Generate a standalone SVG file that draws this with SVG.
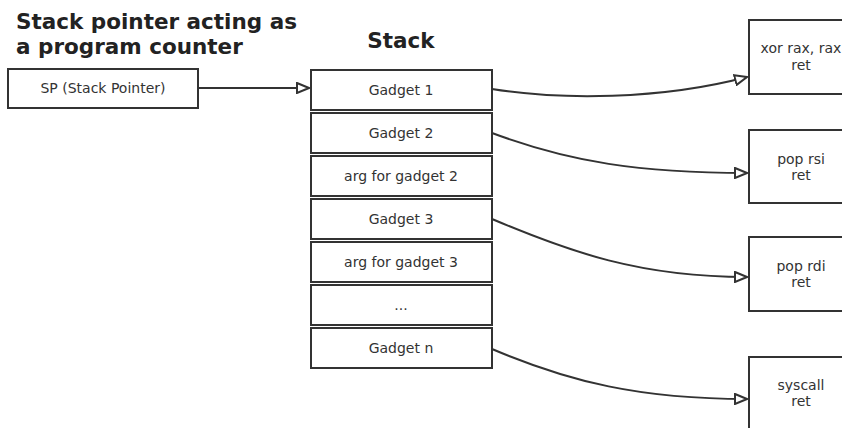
<svg xmlns="http://www.w3.org/2000/svg" width="842" height="428" viewBox="0 0 842 428">
<defs>
<style>
.box{fill:#fff;stroke:#333;stroke-width:2}
.t{font-family:"DejaVu Sans",sans-serif;font-size:14px;fill:#333;text-anchor:middle}
.title{font-family:"DejaVu Sans",sans-serif;font-size:21.5px;font-weight:bold;fill:#222}
.edge{fill:none;stroke:#333;stroke-width:2}
</style>
<marker id="tri" markerUnits="userSpaceOnUse" markerWidth="14" markerHeight="12" refX="12" refY="5" orient="auto" viewBox="-1 -1 14 12">
<path d="M0,0 L12,5 L0,10 Z" fill="#fff" stroke="#333" stroke-width="2"/>
</marker>
</defs>
<rect width="842" height="428" fill="#fff"/>
<g id="title">
<text class="title" x="16" y="29">Stack pointer acting as</text>
<text class="title" x="16" y="54">a program counter</text>
</g>
<g id="stack-title">
<text class="title" x="401" y="48" text-anchor="middle">Stack</text>
</g>
<g id="sp">
<rect class="box" x="8" y="69" width="190" height="39"/>
<text class="t" x="103" y="93">SP (Stack Pointer)</text>
</g>
<g id="gadget1"><rect class="box" x="311" y="70" width="181" height="40"/><text class="t" x="401" y="95">Gadget 1</text></g>
<g id="gadget2"><rect class="box" x="311" y="113" width="181" height="40"/><text class="t" x="401" y="138">Gadget 2</text></g>
<g id="arg2"><rect class="box" x="311" y="156" width="181" height="40"/><text class="t" x="401" y="181">arg for gadget 2</text></g>
<g id="gadget3"><rect class="box" x="311" y="199" width="181" height="40"/><text class="t" x="401" y="224">Gadget 3</text></g>
<g id="arg3"><rect class="box" x="311" y="242" width="181" height="40"/><text class="t" x="401" y="267">arg for gadget 3</text></g>
<g id="dots"><rect class="box" x="311" y="285" width="181" height="40"/><text class="t" x="401" y="310">...</text></g>
<g id="gadgetn"><rect class="box" x="311" y="328" width="181" height="40"/><text class="t" x="401" y="353">Gadget n</text></g>
<g id="xor"><rect class="box" x="749" y="20" width="106" height="74"/><text class="t" x="801" y="53">xor rax, rax</text><text class="t" x="801" y="70">ret</text></g>
<g id="poprsi"><rect class="box" x="749" y="130" width="106" height="73"/><text class="t" x="801" y="164">pop rsi</text><text class="t" x="801" y="180">ret</text></g>
<g id="poprdi"><rect class="box" x="749" y="237" width="106" height="74"/><text class="t" x="801" y="271">pop rdi</text><text class="t" x="801" y="287">ret</text></g>
<g id="syscall"><rect class="box" x="749" y="357" width="106" height="74"/><text class="t" x="801" y="390">syscall</text><text class="t" x="801" y="406">ret</text></g>
<g id="connectors">
<path class="edge" d="M198,88 L309,88" marker-end="url(#tri)"/>
<path class="edge" d="M492,89 C560,100 660,100 747,77" marker-end="url(#tri)"/>
<path class="edge" d="M492,133 C570,162 640,173 747,173" marker-end="url(#tri)"/>
<path class="edge" d="M492,219 C570,252 640,277 747,277" marker-end="url(#tri)"/>
<path class="edge" d="M492,349 C570,382 640,399 747,399" marker-end="url(#tri)"/>
</g>
</svg>
